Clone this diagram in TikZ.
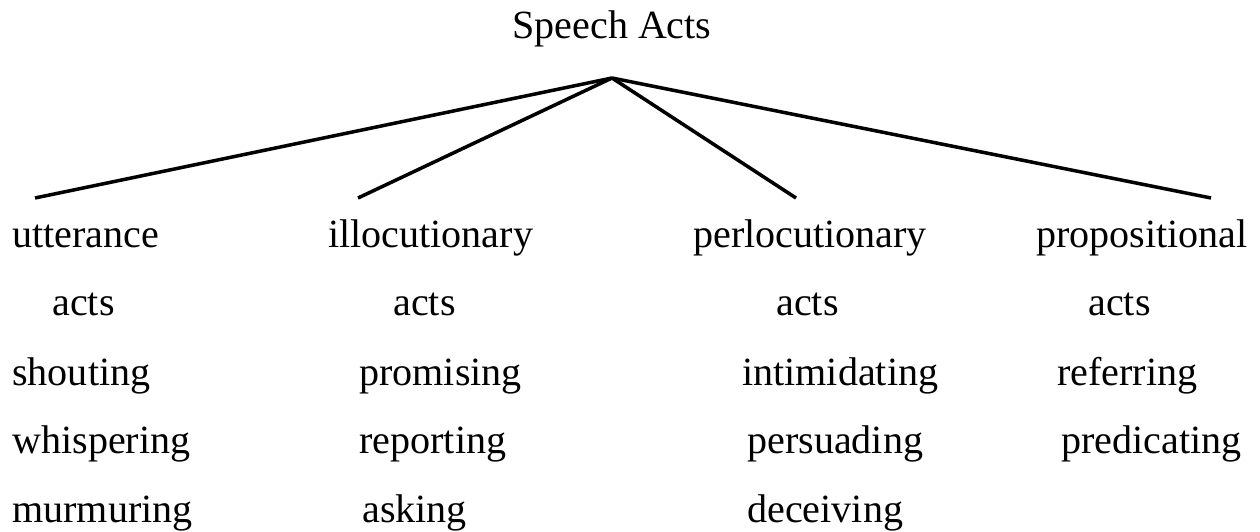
\documentclass[tikz,border=0pt]{standalone}
\usepackage{fontspec}
\setmainfont{Liberation Serif}
\begin{document}
\begin{tikzpicture}[x=0.02cm,y=-0.02cm,
    word/.style={anchor=base west,inner sep=0pt,font=\fontsize{22.8}{27}\selectfont},
    branch/.style={line width=2pt}]
\useasboundingbox (0,0) rectangle (1260,531);

\node[word] (root) at (512,38) {Speech Acts};
\coordinate (apex) at (612,78);
\coordinate (utterend) at (35,198);
\coordinate (illocend) at (358,198);
\coordinate (perlocend) at (796,198);
\coordinate (proposend) at (1211,198);

\draw[branch] (apex) -- (utterend);
\draw[branch] (apex) -- (illocend);
\draw[branch] (apex) -- (perlocend);
\draw[branch] (apex) -- (proposend);

% utterance acts
\node[word] (utter) at (12,247) {utterance};
\node[word] (utteracts) at (52,315) {acts};
\node[word] (shout) at (12,385) {shouting};
\node[word] (whisper) at (12,453) {whispering};
\node[word] (murmur) at (12,522) {murmuring};

% illocutionary acts
\node[word] (illoc) at (328,247) {illocutionary};
\node[word] (illocacts) at (393,315) {acts};
\node[word] (promise) at (359,385) {promising};
\node[word] (report) at (359,453) {reporting};
\node[word] (ask) at (362,522) {asking};

% perlocutionary acts
\node[word] (perloc) at (693,247) {perlocutionary};
\node[word] (perlocacts) at (776,315) {acts};
\node[word] (intimidate) at (742,385) {intimidating};
\node[word] (persuade) at (747,453) {persuading};
\node[word] (deceive) at (747,522) {deceiving};

% propositional acts
\node[word] (propos) at (1036,247) {propositional};
\node[word] (proposacts) at (1088,315) {acts};
\node[word] (refer) at (1057,385) {referring};
\node[word] (predicate) at (1061,453) {predicating};
\end{tikzpicture}
\end{document}
